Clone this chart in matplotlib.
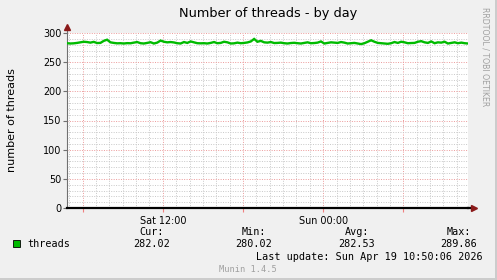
import matplotlib
matplotlib.use("Agg")
import matplotlib.pyplot as plt
import numpy as np
from matplotlib.patches import Rectangle

# ---- data ----
threads = [
    282.5, 282.0, 282.3, 283.0, 284.0, 285.0, 284.5, 283.5, 284.8, 282.8,
    283.0, 286.5, 288.5, 284.0, 283.0, 282.3, 282.5, 282.0, 282.6, 282.4,
    283.5, 284.5, 282.5, 282.0, 283.0, 284.2, 282.0, 283.5, 287.0, 285.0,
    284.0, 284.5, 283.8, 282.5, 282.0, 284.5, 283.0, 285.5, 284.0, 282.5,
    282.3,
    282.5, 282.0, 283.0, 284.5, 282.5, 283.0, 285.0, 284.0, 282.0, 282.3,
    283.5, 282.5, 283.0, 283.8, 285.5, 289.8, 285.0, 286.5, 284.0, 283.5,
    284.5, 282.8, 283.0, 283.5, 282.5, 282.0, 282.8, 283.2, 282.5, 282.0,
    283.0, 284.0, 282.5, 282.8, 283.5, 285.5, 282.0, 283.0, 284.0, 283.5,
    283.0, 284.5, 283.5, 282.0, 282.5, 283.0, 282.0, 281.0, 282.5, 285.0,
    287.5, 285.0, 283.0, 282.5, 282.0, 281.5, 282.5, 284.5, 283.0, 285.0,
    284.0, 282.5, 282.8, 283.0, 285.0, 286.0, 284.0, 283.0, 285.5, 282.5,
    284.0, 283.5, 285.0, 282.0, 283.0, 284.0, 282.5, 283.5, 282.5, 282.0,
]
start_hour = 4 + 50 / 60.0      # Sat 04:50, hours since Sat 00:00
end_hour = start_hour + 30.0    # Sun 10:50
x_tick_pos = [12, 24]
x_tick_labels = ["Sat 12:00", "Sun 00:00"]
y_ticks = [0, 50, 100, 150, 200, 250, 300]
stat_names = ["Cur:", "Min:", "Avg:", "Max:"]
stat_values = ["282.02", "280.02", "282.53", "289.86"]
series_name = "threads"
title = "Number of threads - by day"
ylabel = "number of threads"
last_update = "Last update: Sun Apr 19 10:50:06 2026"

W, H = 497, 280
fig = plt.figure(figsize=(W / 100, H / 100), dpi=100)
fig.patch.set_facecolor("#F0F0F0")

def fx(px):
    return px / W

def fy(py):
    return 1 - py / H

# 3D border
fig.patches.append(Rectangle((0, 0), 1, fy(H - 2), transform=fig.transFigure,
                             facecolor="#CCCCCC", edgecolor="none", zorder=0))
fig.patches.append(Rectangle((fx(W - 2), 0), fx(2), 1, transform=fig.transFigure,
                             facecolor="#CCCCCC", edgecolor="none", zorder=0))

ax = fig.add_axes([fx(67), fy(208), fx(401), (208 - 33) / H])
ax.set_facecolor("white")

n = len(threads)
xs = np.linspace(start_hour, end_hour, n)
ax.set_xlim(start_hour, end_hour)
ax.set_ylim(0, 300)

# grid
for h in range(5, 35):
    if start_hour < h < end_hour:
        col = "#EC9A9A" if h % 6 == 0 else "#C8C8C8"
        ax.axvline(h, color=col, lw=0.7, ls=(0, (1, 1.5)), zorder=1)
for v in range(10, 301, 10):
    col = "#EC9A9A" if v % 50 == 0 else "#C8C8C8"
    ax.axhline(v, color=col, lw=0.7, ls=(0, (1, 1.5)), zorder=1)

ax.plot(xs, threads, color="#00BB00", lw=1.7, zorder=3, solid_joinstyle="miter")

for s in ["top", "right"]:
    ax.spines[s].set_visible(False)
ax.spines["left"].set_color("#707070")
ax.spines["left"].set_linewidth(0.8)
ax.spines["bottom"].set_color("black")
ax.spines["bottom"].set_linewidth(1.6)
ax.spines["bottom"].set_zorder(4)

ax.set_yticks(y_ticks)
ax.set_yticklabels([str(v) for v in y_ticks], fontsize=6.9, color="black")
ax.tick_params(axis="y", length=3, width=0.8, color="#707070", pad=1)

major_x = [6, 12, 18, 24, 30]
ax.set_xticks(major_x)
ax.set_xticklabels(["", x_tick_labels[0], "", x_tick_labels[1], ""], fontsize=6.9)
ax.tick_params(axis="x", length=3, width=0.8, color="#F08080", pad=3)

# arrows
ax.plot([0], [1.035], marker="^", color="#8B1A1A", markersize=4, transform=ax.transAxes,
        clip_on=False, zorder=5)
ax.plot([0, 0], [1.0, 1.03], color="#707070", lw=0.8, transform=ax.transAxes, clip_on=False)
ax.plot([1.0, 1.012], [0, 0], color="black", lw=1.6, transform=ax.transAxes, clip_on=False)
ax.plot([1.015], [0], marker=">", color="#8B1A1A", markersize=4, transform=ax.transAxes,
        clip_on=False, zorder=5)

# texts
fig.text(fx(268), fy(13), title, ha="center", va="center", fontsize=9.3, family="DejaVu Sans")
fig.text(fx(12), fy(120), ylabel, ha="center", va="center", rotation=90, fontsize=8,
         family="DejaVu Sans")
fig.text(fx(485), fy(57), "RRDTOOL / TOBI OETIKER", ha="center", va="center", rotation=270,
         fontsize=5.6, color="#A0A0A0", family="DejaVu Sans")

mono = "DejaVu Sans Mono"
fig.patches.append(Rectangle((fx(13), fy(247)), fx(7), 7 / H, transform=fig.transFigure,
                             facecolor="#00BB00", edgecolor="black", lw=0.6, zorder=3))
fig.text(fx(27), fy(244), series_name, ha="left", va="center", fontsize=7.3, family=mono)
stat_x = [152, 254, 357, 459]
for sx, name, val in zip(stat_x, stat_names, stat_values):
    fig.text(fx(sx), fy(232), name, ha="center", va="center", fontsize=7.3, family=mono)
    fig.text(fx(sx), fy(244), val, ha="center", va="center", fontsize=7.3, family=mono)
fig.text(fx(483), fy(257), last_update, ha="right", va="center", fontsize=7.3, family=mono)
fig.text(fx(248), fy(269), "Munin 1.4.5", ha="center", va="center", fontsize=6.2,
         color="#A0A0A0", family=mono)

fig.savefig("out.png", dpi=100, facecolor=fig.get_facecolor())
